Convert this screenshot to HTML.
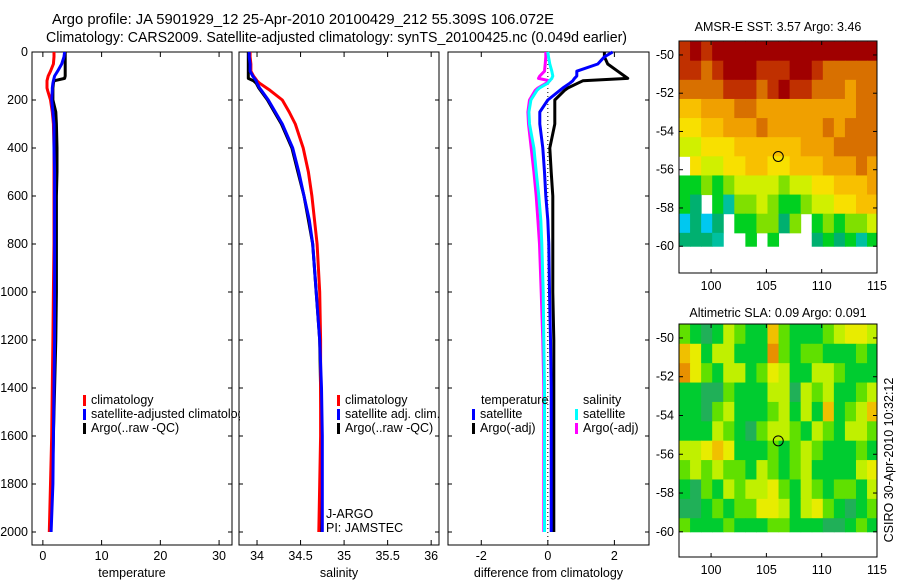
<!DOCTYPE html>
<html><head><meta charset="utf-8"><style>
body{margin:0;background:#fff;}
svg{display:block;font-family:"Liberation Sans",Arial,sans-serif;}
</style></head><body>
<svg id="chart" width="900" height="580" viewBox="0 0 900 580">
<rect width="900" height="580" fill="#fff"/>
<text x="52" y="24" font-size="14.3" textLength="502" lengthAdjust="spacingAndGlyphs">Argo profile: JA 5901929_12 25-Apr-2010 20100429_212 55.309S 106.072E</text>
<text x="46" y="42" font-size="14.3" textLength="581" lengthAdjust="spacingAndGlyphs">Climatology: CARS2009. Satellite-adjusted climatology: synTS_20100425.nc (0.049d earlier)</text>
<defs>
<clipPath id="c1"><rect x="0" y="0" width="240" height="580"/></clipPath>
<clipPath id="m1"><rect x="679" y="41" width="198" height="232"/></clipPath>
<clipPath id="m2"><rect x="679" y="324" width="198" height="233"/></clipPath>
</defs>
<g id="g"></g>
<text transform="translate(893,460) rotate(-90)" text-anchor="middle" font-size="12.5">CSIRO 30-Apr-2010 10:32:12</text>
</svg>
<script>
// ---- data ----
const depths = [0,20,50,80,100,110,120,130,150,160,200,250,300,400,500,600,700,800,1000,1200,1400,1600,1800,2000];
const tempClim = [1.9,1.9,1.8,1.3,0.9,0.8,0.7,0.7,0.7,0.8,1.3,1.6,1.8,1.9,1.9,1.9,1.9,1.9,1.8,1.7,1.6,1.5,1.3,1.1];
const tempSat  = [3.7,3.6,3.2,2.5,2.0,1.9,1.8,1.7,1.6,1.6,1.5,1.7,1.9,1.9,2.0,2.0,2.0,2.0,2.0,2.0,1.9,1.8,1.7,1.4];
const tempArgo = [3.8,3.8,3.8,3.8,3.8,3.7,1.9,1.8,1.7,1.7,1.7,2.2,2.3,2.4,2.4,2.3,2.3,2.3,2.3,2.2,2.0,1.8,1.6,1.3];
const salClim  = [33.92,33.92,33.93,33.93,33.96,33.98,34.0,34.03,34.11,34.15,34.29,34.37,34.44,34.53,34.59,34.63,34.66,34.69,34.72,34.73,34.73,34.73,34.72,34.71];
const salSat   = [33.91,33.91,33.92,33.92,33.95,33.97,33.99,34.0,34.03,34.05,34.13,34.21,34.29,34.41,34.48,34.54,34.6,34.64,34.68,34.72,34.74,34.75,34.75,34.75];
const salArgo  = [33.9,33.9,33.9,33.9,33.9,33.9,33.96,33.99,34.02,34.04,34.12,34.2,34.28,34.4,34.47,34.54,34.59,34.64,34.68,34.72,34.73,34.74,34.74,34.74];
const dTempSat = [1.95,1.7,1.5,0.87,0.87,0.8,0.75,0.66,0.45,0.36,0.0,-0.24,-0.24,-0.15,-0.1,-0.06,0.0,0.03,0.05,0.08,0.1,0.1,0.1,0.1];
const dTempArgo= [1.7,1.7,1.8,2.1,2.3,2.4,1.05,0.9,0.6,0.5,0.21,0.21,0.21,0.06,0.1,0.15,0.15,0.15,0.15,0.18,0.18,0.18,0.18,0.18];
const dSalSat  = [0.0,0.02,0.06,0.12,0.15,0.12,0.05,0.0,-0.25,-0.33,-0.51,-0.57,-0.55,-0.42,-0.35,-0.27,-0.21,-0.18,-0.14,-0.12,-0.1,-0.1,-0.1,-0.1];
const dSalArgo = [-0.06,-0.06,-0.08,-0.1,-0.24,-0.28,0.06,-0.05,-0.3,-0.38,-0.55,-0.6,-0.58,-0.5,-0.42,-0.35,-0.3,-0.25,-0.2,-0.15,-0.12,-0.12,-0.12,-0.12];
const depthTicks = [0,200,400,600,800,1000,1200,1400,1600,1800,2000];
const tempTicks = [0,10,20,30];
const salTicks = [34,34.5,35,35.5,36];
const diffTicks = [-2,0,2];
const latTicks = [-50,-52,-54,-56,-58,-60];
const lonTicks = [100,105,110,115];
const sstGrid = [
[10,11,10,11,11,11,11,11,11,11,11,11,11,11,11,11,11,11],
[10,10,9,10,11,11,11,10,10,10,11,11,10,9,9,9,9,9],
[9,9,9,9,10,10,10,9,10,11,10,10,9,9,9,8,9,9],
[7,7,8,8,8,9,9,8,8,8,8,8,8,8,8,8,9,9],
[6,6,7,7,8,8,8,9,8,8,8,8,8,9,8,9,9,9],
[5,5,6,6,6,7,7,7,7,7,7,8,8,8,9,9,9,9],
[-1,6,5,5,6,6,7,7,6,6,7,7,7,8,8,8,9,8],
[3,3,4,3,4,5,5,5,5,4,5,5,6,6,7,7,7,8],
[3,2,-1,3,1,4,4,5,4,3,3,4,5,5,6,6,7,7],
[0,2,0,2,-1,3,3,4,4,2,4,-1,3,4,3,4,4,5],
[2,2,2,1,-1,-1,3,-1,3,-1,-1,-1,2,3,2,3,1,3]];
const slaGrid = [
[2,1,0,1,3,2,1,1,5,2,1,1,1,2,3,4,4,3],
[5,4,1,3,3,1,1,1,6,2,1,2,2,1,1,1,2,1],
[6,4,2,1,3,3,1,2,4,3,1,1,3,3,2,1,1,1],
[1,1,0,0,2,1,1,1,3,3,0,3,2,3,1,1,2,3],
[1,1,0,2,3,1,1,1,2,3,1,3,1,5,1,2,3,5],
[1,1,1,3,2,1,0,2,3,3,2,1,3,2,1,3,3,2],
[3,3,4,5,4,1,1,1,2,1,2,3,2,1,1,1,2,1],
[2,3,2,3,2,2,1,3,2,1,2,3,1,1,1,1,3,4],
[1,0,2,1,3,2,3,3,4,2,1,3,2,1,2,2,1,3],
[0,0,1,2,1,2,2,4,4,3,1,3,4,2,1,0,1,2],
[2,1,1,1,2,1,1,1,2,2,1,1,1,0,0,1,2,1]];
const argoLon = 106.072, argoLat = -55.309;

const sstPal = ['#00c8f0','#00c0a0','#00b070','#00d020','#80e000','#d0f000','#f8e000','#f8c000','#f0a000','#d87000','#c03000','#a00000'];
const slaPal = ['#20b058','#00cc30','#60e000','#c0f000','#e8ec00','#f0c000','#e89000'];

const NS='http://www.w3.org/2000/svg';
const G=document.getElementById('g');
function mk(tag,attrs,parent){const e=document.createElementNS(NS,tag);for(const k in attrs)e.setAttribute(k,attrs[k]);(parent||G).appendChild(e);return e;}

const yD = d => 52 + d*0.24;
const panels = [
 {x0:32,x1:232,min:-1.85,max:32.2,ticks:tempTicks,label:'temperature'},
 {x0:239,x1:439,min:33.793,max:36.09,ticks:salTicks,label:'salinity'},
 {x0:448,x1:649,min:-3.0,max:3.04,ticks:diffTicks,label:'difference from climatology'}];
function xf(p){return v=>p.x0+(v-p.min)/(p.max-p.min)*(p.x1-p.x0);}

panels.forEach((p,i)=>{
  const f=xf(p);
  const r=mk('rect',{x:p.x0,y:52,width:p.x1-p.x0,height:493,fill:'none',stroke:'#000','stroke-width':1});
  
  
  p.ticks.forEach(t=>{
    const x=f(t);
    mk('line',{x1:x,x2:x,y1:545,y2:540,stroke:'#000'});
    mk('line',{x1:x,x2:x,y1:52,y2:57,stroke:'#000'});
    const tx=mk('text',{x:x,y:560,'text-anchor':'middle','font-size':12.5});
    tx.textContent=t;
    
    
  });
  depthTicks.forEach(d=>{
    mk('line',{x1:p.x0,x2:p.x0+4,y1:yD(d),y2:yD(d),stroke:'#000'});
    mk('line',{x1:p.x1,x2:p.x1-4,y1:yD(d),y2:yD(d),stroke:'#000'});
  });
  const xl=mk('text',{x:(p.x0+p.x1)/2,y:577,'text-anchor':'middle','font-size':12.5});
  xl.textContent=p.label;
  
  
});
depthTicks.forEach(d=>{
  const t=mk('text',{x:28,y:yD(d)+4,'text-anchor':'end','font-size':12.5});
  t.textContent=d;
  
  
});

function line(vals,p,color,name,w){
  const f=xf(p);
  const pts=vals.map((v,i)=>f(v).toFixed(1)+','+yD(depths[i]).toFixed(1)).join(' ');
  const e=mk('polyline',{points:pts,fill:'none',stroke:color,'stroke-width':w||3,'stroke-linejoin':'round'});
  
  
}
const f3=xf(panels[2]);
mk('line',{x1:f3(0),x2:f3(0),y1:52,y2:545,stroke:'#000','stroke-width':1,'stroke-dasharray':'1,3'});

line(tempArgo,panels[0],'#000','temp-argo-line');
line(tempClim,panels[0],'#f00','temp-climatology-line');
line(tempSat,panels[0],'#00f','temp-satellite-line');
line(salArgo,panels[1],'#000','sal-argo-line');
line(salClim,panels[1],'#f00','sal-climatology-line');
line(salSat,panels[1],'#00f','sal-satellite-line');
line(dSalArgo,panels[2],'#f0f','diff-sal-argo-line');
line(dSalSat,panels[2],'#0ff','diff-sal-satellite-line');
line(dTempArgo,panels[2],'#000','diff-temp-argo-line');
line(dTempSat,panels[2],'#00f','diff-temp-satellite-line');

function legend(x,y,color,label,clip){
  const g=mk('g',clip?{'clip-path':'url(#c1)'}:{});
  
  
  mk('rect',{x:x,y:y-9,width:3,height:11,fill:color},g);
  const t=mk('text',{x:x+8,y:y,'font-size':12.5},g);t.textContent=label;
}
legend(83,404,'#f00','climatology',true);
legend(83,418,'#00f','satellite-adjusted climatology',true);
legend(83,432,'#000','Argo(..raw -QC)',true);
legend(337,404,'#f00','climatology');
legend(337,418,'#00f','satellite adj. clim.');
legend(337,432,'#000','Argo(..raw -QC)');
const tl=mk('text',{x:481,y:404,'font-size':12.5});tl.textContent='temperature';

const sl=mk('text',{x:583,y:404,'font-size':12.5});sl.textContent='salinity';

legend(472,418,'#00f','satellite');
legend(472,432,'#000','Argo(-adj)');
legend(575,418,'#0ff','satellite');
legend(575,432,'#f0f','Argo(-adj)');
const j1=mk('text',{x:326,y:518,'font-size':12.5});j1.textContent='J-ARGO';

const j2=mk('text',{x:326,y:532,'font-size':12.5});j2.textContent='PI: JAMSTEC';


const lon0=97.1, lon1=115;
function mapPanel(top,bot,latTop,latBot,grid,pal,clip,title,name,ytitle){
  const lx=v=>679+(v-lon0)/(lon1-lon0)*198;
  const ly=v=>top+(latTop-v)/(latTop-latBot)*(bot-top);
  const g=mk('g',{'clip-path':'url(#'+clip+')'});
  
  
  grid.forEach((row,r)=>row.forEach((v,c)=>{
    if(v<0)return;
    const la=-49.3-r, lo=lon0+c;
    let yb=ly(Math.max(la-1,-60));
    const cell=mk('rect',{x:lx(lo),y:ly(la),width:lx(lo+1)-lx(lo)+0.5,height:yb-ly(la)+0.5,fill:pal[v]},g);
    
    
  }));
  const fr=mk('rect',{x:679,y:top,width:198,height:bot-top,fill:'none',stroke:'#000'});
  
  latTicks.forEach(l=>{
    const y=ly(l);
    mk('line',{x1:679,x2:683,y1:y,y2:y,stroke:'#000'});
    mk('line',{x1:877,x2:873,y1:y,y2:y,stroke:'#000'});
    const t=mk('text',{x:674,y:y+4,'text-anchor':'end','font-size':12.5});t.textContent=l;
    
  });
  lonTicks.forEach(l=>{
    const x=lx(l);
    mk('line',{x1:x,x2:x,y1:bot,y2:bot-4,stroke:'#000'});
    mk('line',{x1:x,x2:x,y1:top,y2:top+4,stroke:'#000'});
    const t=mk('text',{x:x,y:bot+17,'text-anchor':'middle','font-size':12.5});t.textContent=l;
    
  });
  const c=mk('circle',{cx:lx(argoLon),cy:ly(argoLat),r:5,fill:'none',stroke:'#000','stroke-width':1});
  
  const t=mk('text',{x:778,y:ytitle,'text-anchor':'middle','font-size':12.5});t.textContent=title;
  
}
mapPanel(41,273,-49.27,-61.4,sstGrid,sstPal,'m1','AMSR-E SST: 3.57 Argo: 3.46','sst-map',31);
mapPanel(324,557,-49.28,-61.3,slaGrid,slaPal,'m2','Altimetric SLA: 0.09 Argo: 0.091','sla-map',317);
</script>
</body></html>
